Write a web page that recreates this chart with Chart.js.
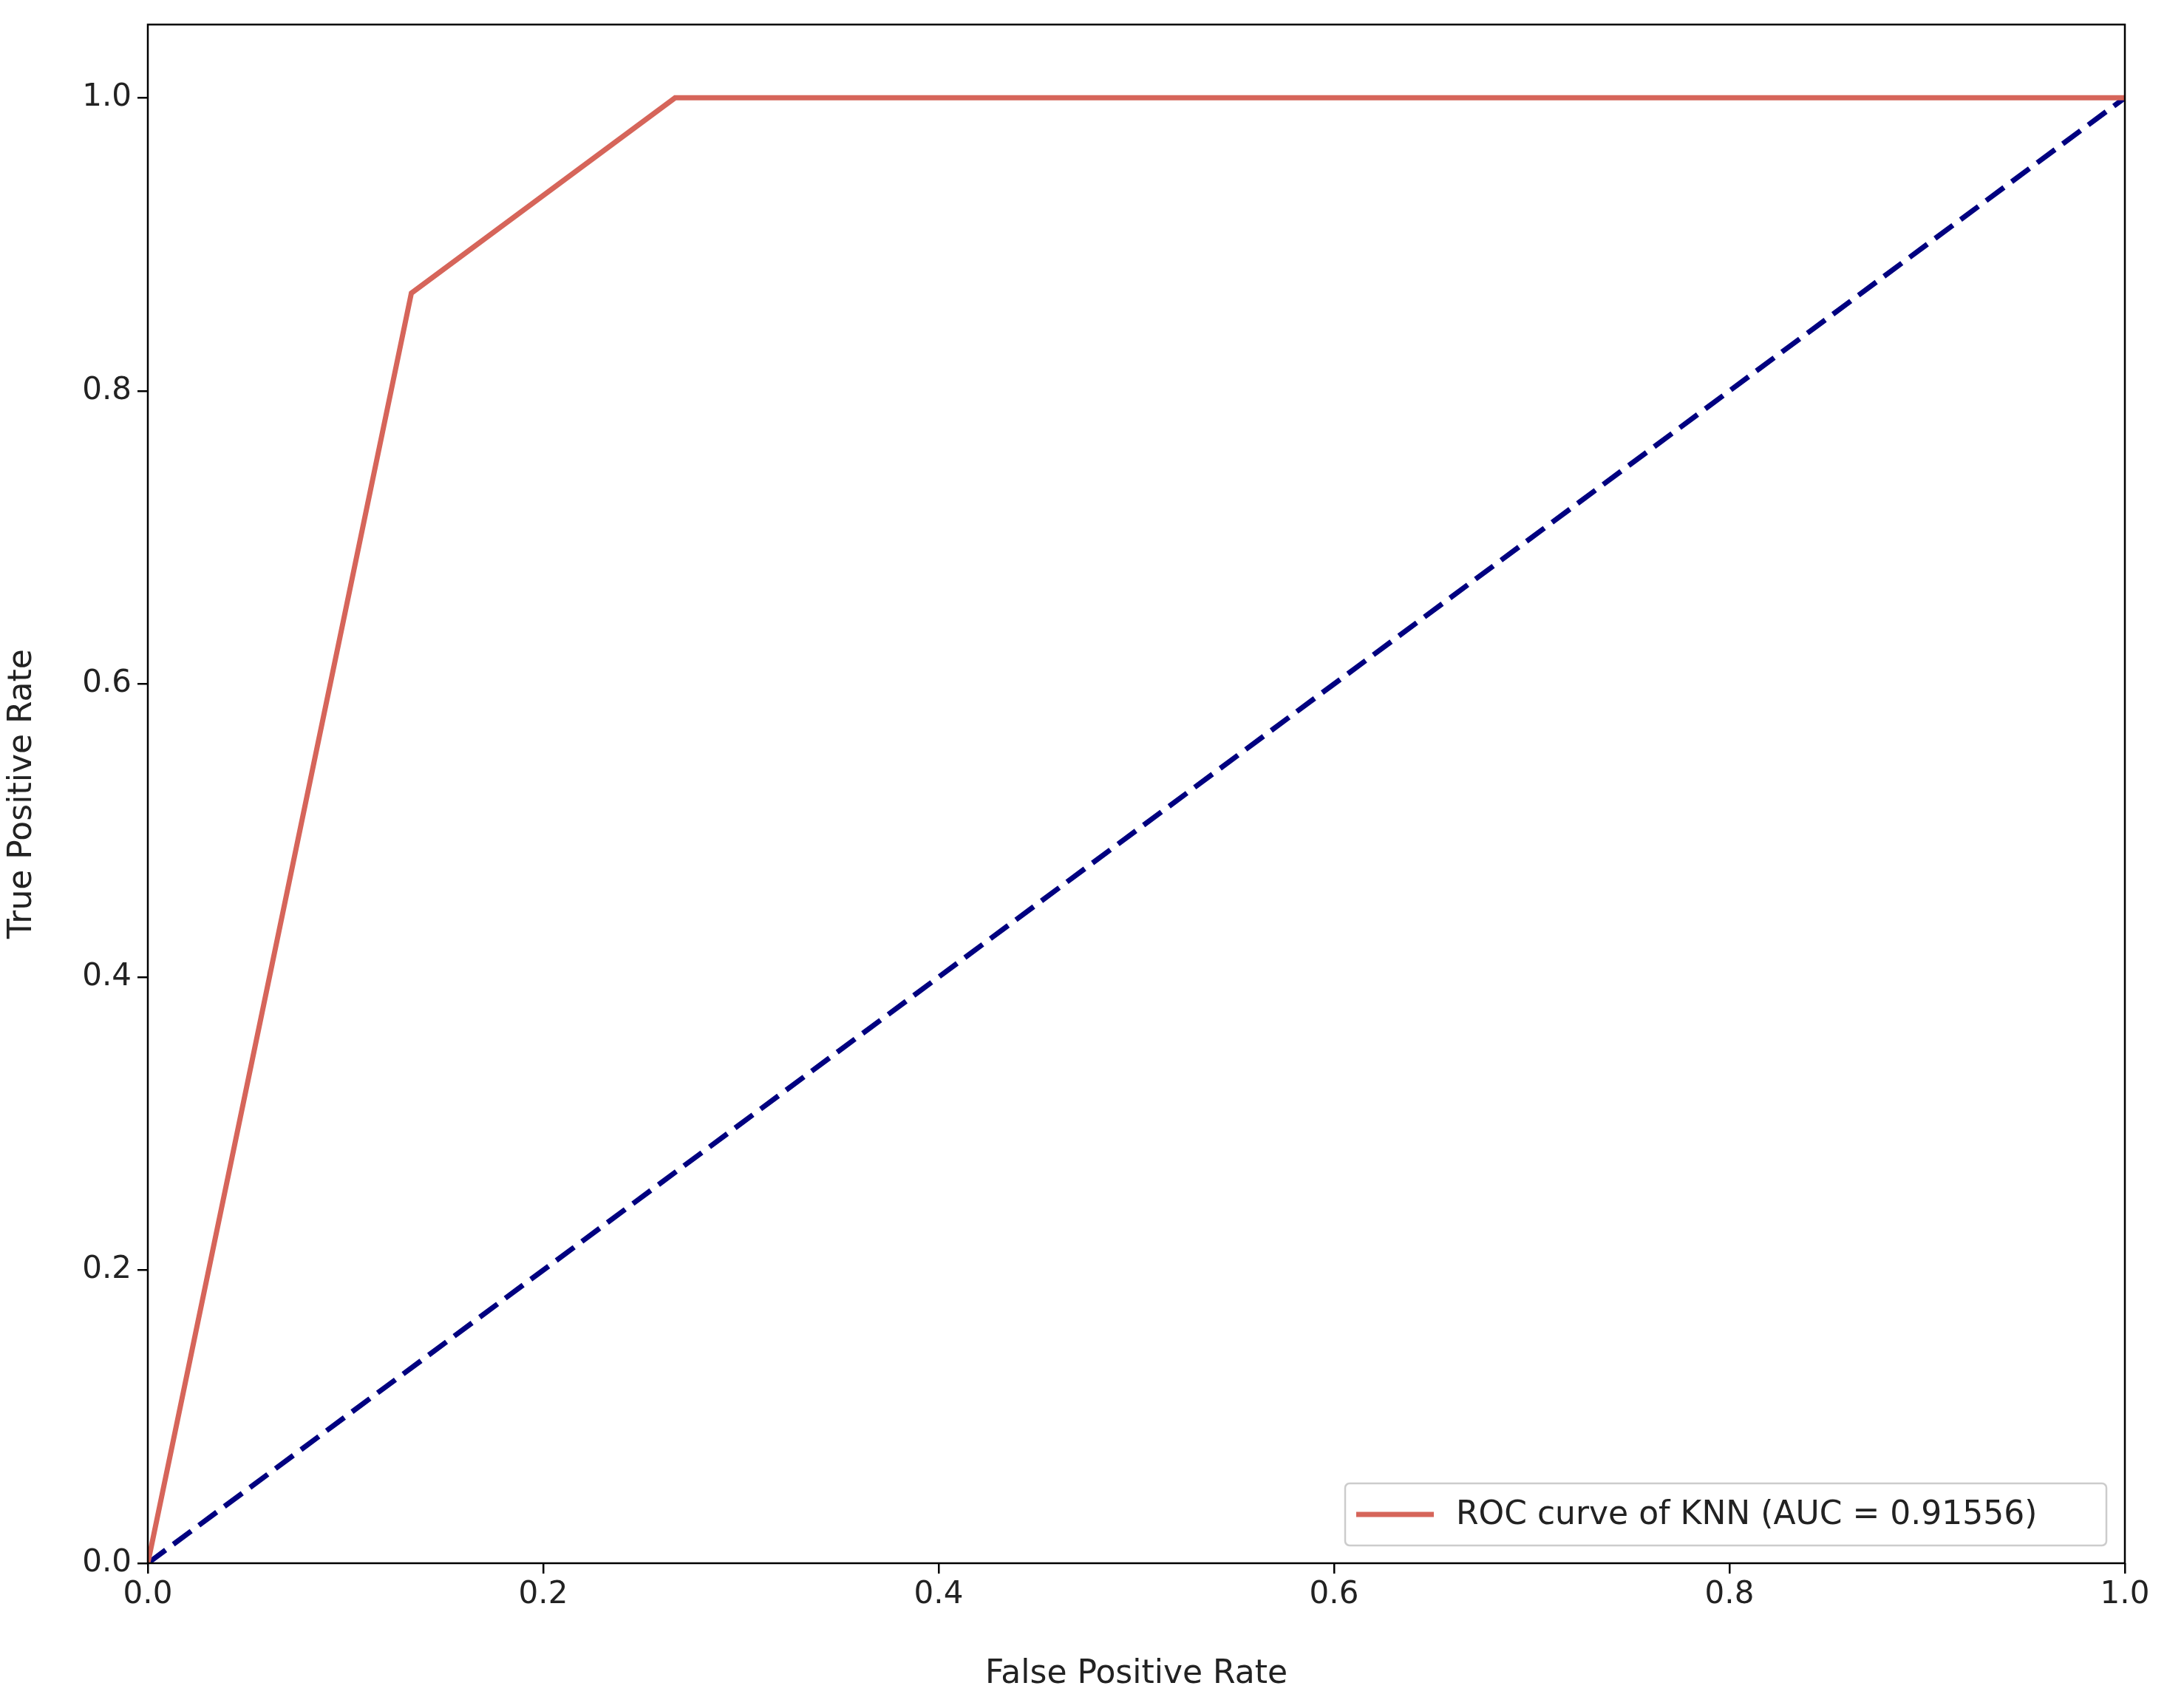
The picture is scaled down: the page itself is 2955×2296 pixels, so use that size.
<!DOCTYPE html>
<html><head><meta charset="utf-8">
<script src="https://cdn.jsdelivr.net/npm/chart.js@4"></script>
<style>html,body{margin:0;padding:0;background:#fff}#w{width:2955px;height:2296px}</style>
</head><body><div id="w"><canvas id="c"></canvas></div>
<script>
const fpr = [0, 0.1333, 0.2667, 1.0];
const tpr = [0, 0.8667, 1.0, 1.0];
const diagX = [0, 1];
const diagY = [0, 1];
const xTicks = [0, 0.2, 0.4, 0.6, 0.8, 1.0];
const yTicks = [0, 0.2, 0.4, 0.6, 0.8, 1.0];
const rocLabel = 'ROC curve of KNN (AUC = 0.91556)';
const F = 'DejaVu Sans';
const frame = {id:'frame', afterDraw(ch){
  const c=ch.ctx,a=ch.chartArea;
  c.save();c.strokeStyle='#000';c.lineWidth=2.5;c.strokeRect(a.left,a.top,a.right-a.left,a.bottom-a.top);
  const x0=a.right-1055,y0=a.bottom-108,w=1030,h=84;
  c.fillStyle='rgba(255,255,255,0.85)';c.strokeStyle='#ccc';c.lineWidth=2.5;
  c.beginPath();c.roundRect(x0,y0,w,h,6);c.fill();c.stroke();
  c.strokeStyle='#d6655a';c.lineWidth=7;c.beginPath();c.moveTo(x0+15,y0+h/2);c.lineTo(x0+120,y0+h/2);c.stroke();
  c.fillStyle='#222';c.font='44px "'+F+'"';c.textBaseline='middle';c.fillText(rocLabel,x0+150,y0+h/2+2);
  c.restore();
}};
new Chart(document.getElementById('c'),{
  type:'scatter',
  data:{datasets:[
    {label:rocLabel,data:fpr.map((x,i)=>({x,y:tpr[i]})),showLine:true,borderColor:'#d6655a',borderWidth:7,pointRadius:0,tension:0},
    {label:'diag',data:diagX.map((x,i)=>({x,y:diagY[i]})),showLine:true,borderColor:'#000080',borderWidth:7,borderDash:[30,13],pointRadius:0}
  ]},
  plugins:[frame],
  options:{responsive:true,maintainAspectRatio:false,animation:false,
    layout:{padding:{top:30,right:80,left:0,bottom:0}},
    plugins:{legend:{display:false},tooltip:{enabled:false}},
    scales:{
      x:{type:'linear',min:0,max:1,afterBuildTicks(s){s.ticks=xTicks.map(v=>({value:v}));},
        afterFit(s){s.height=181;},
        ticks:{font:{family:F,size:42},color:'#222',callback:v=>v.toFixed(1),padding:4,maxRotation:0},
        grid:{drawOnChartArea:false,tickLength:14,color:'#000',lineWidth:2.5},border:{display:false},
        title:{display:true,text:'False Positive Rate',font:{family:F,size:44},color:'#222',padding:{top:0}}},
      y:{type:'linear',min:0,max:1.05,afterBuildTicks(s){s.ticks=yTicks.map(v=>({value:v}));},
        afterFit(s){s.width=200;},
        ticks:{font:{family:F,size:42},color:'#222',callback:v=>v.toFixed(1),padding:8},
        grid:{drawOnChartArea:false,tickLength:14,color:'#000',lineWidth:2.5},border:{display:false},
        title:{display:true,text:'True Positive Rate',font:{family:F,size:44},color:'#222',padding:{bottom:4}}}
    }}
});
</script></body></html>
